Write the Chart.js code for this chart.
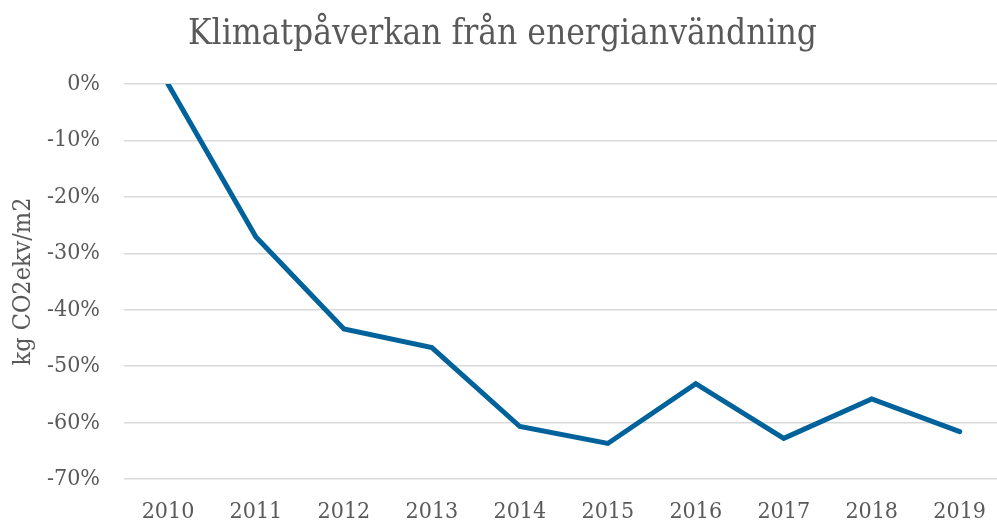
<!DOCTYPE html>
<html>
<head>
<meta charset="utf-8">
<script src="https://cdn.jsdelivr.net/npm/chart.js@4"></script>
<style>
    html, body { margin: 0; padding: 0; background: #fff; }
    #wrap { width: 997px; height: 520px; overflow: hidden; }
    #box { width: 1005px; height: 520px; }
</style>
</head>
<body>
<div id="wrap"><div id="box"><canvas id="chart"></canvas></div></div>
<script>
// -------- DATA --------
const years = ['2010', '2011', '2012', '2013', '2014', '2015', '2016', '2017', '2018', '2019'];
const changePct = [0, -27.1, -43.4, -46.7, -60.7, -63.7, -53.1, -62.8, -55.8, -61.6];
const yTicks = [0, -10, -20, -30, -40, -50, -60, -70];
const chartTitle = 'Klimatpåverkan från energianvändning';
const yTitle = 'kg CO2ekv/m2';
// -------- END DATA --------

const grey = '#595959';
const serif = '"DejaVu Serif Condensed", "Liberation Serif", serif';

new Chart(document.getElementById('chart').getContext('2d'), {
    type: 'line',
    data: {
        labels: years,
        datasets: [{
            data: changePct,
            borderColor: '#00629b',
            borderWidth: 5,
            borderCapStyle: 'round',
            borderJoinStyle: 'miter',
            pointRadius: 0,
            tension: 0
        }]
    },
    options: {
        responsive: true,
        maintainAspectRatio: false,
        animation: false,
        layout: { padding: 0 },
        plugins: {
            legend: { display: false },
            tooltip: { enabled: false },
            title: {
                display: true,
                text: chartTitle,
                color: grey,
                font: { family: serif, size: 35, weight: 'normal', lineHeight: 1.2 },
                padding: { top: 14, bottom: 28 }
            }
        },
        scales: {
            x: {
                offset: true,
                grid: { display: false, drawTicks: false },
                border: { display: false },
                ticks: {
                    color: grey,
                    padding: 19,
                    maxRotation: 0,
                    font: { family: serif, size: 23 }
                },
                afterFit: s => { s.height = 41; }
            },
            y: {
                min: -70,
                max: 0,
                afterBuildTicks: s => { s.ticks = yTicks.map(v => ({ value: v })); },
                grid: { color: '#d9d9d9', lineWidth: 1.5, drawTicks: false },
                border: { display: false },
                ticks: {
                    color: grey,
                    padding: 24,
                    font: { family: serif, size: 23 },
                    callback: v => v + '%'
                },
                title: {
                    display: true,
                    text: yTitle,
                    color: grey,
                    font: { family: serif, size: 25, weight: 'normal', lineHeight: 1.2 },
                    padding: { top: 8, bottom: 0 }
                },
                afterFit: s => { s.width = 124; }
            }
        }
    }
});
</script>
</body>
</html>
